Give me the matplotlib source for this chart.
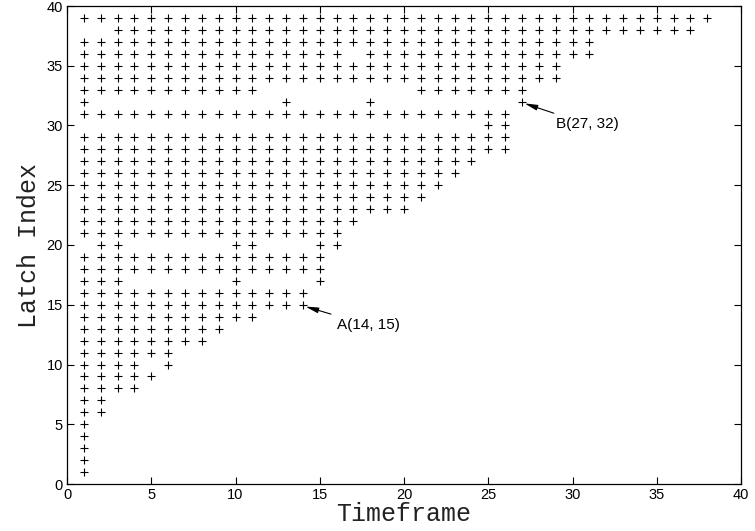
import matplotlib
matplotlib.use("Agg")
import matplotlib.pyplot as plt

# Latch index (y) for each row of points, and the timeframes (x) occupied in that row,
# given as inclusive runs (start, end) of consecutive timeframes.
latch_index = [39, 38, 37, 36, 35, 34, 33, 32, 31, 30, 29, 28, 27, 26, 25, 24, 23, 22, 21,
               20, 19, 18, 17, 16, 15, 14, 13, 12, 11, 10, 9, 8, 7, 6, 5, 4, 3, 2, 1]
timeframe_runs = [
    [(1, 38)],
    [(3, 37)],
    [(1, 31)],
    [(1, 16), (18, 31)],
    [(1, 29)],
    [(1, 29)],
    [(1, 11), (21, 27)],
    [(1, 1), (13, 13), (18, 18), (27, 27)],
    [(1, 26)],
    [(25, 26)],
    [(1, 26)],
    [(1, 26)],
    [(1, 24)],
    [(1, 23)],
    [(1, 22)],
    [(1, 21)],
    [(1, 20)],
    [(1, 17)],
    [(1, 16)],
    [(2, 3), (10, 11), (15, 16)],
    [(1, 15)],
    [(1, 15)],
    [(1, 3), (10, 10), (15, 15)],
    [(1, 14)],
    [(1, 14)],
    [(1, 11)],
    [(1, 9)],
    [(1, 8)],
    [(1, 6)],
    [(1, 4), (6, 6)],
    [(1, 5)],
    [(1, 4)],
    [(1, 2)],
    [(1, 2)],
    [(1, 1)],
    [(1, 1)],
    [(1, 1)],
    [(1, 1)],
    [(1, 1)],
]

annot_labels = ["A(14, 15)", "B(27, 32)"]
annot_points = [(14, 15), (27, 32)]

xs, ys = [], []
for y, runs in zip(latch_index, timeframe_runs):
    for a, b in runs:
        for x in range(a, b + 1):
            xs.append(x)
            ys.append(y)

fig = plt.figure(figsize=(7.55, 5.31), dpi=100)
ax = fig.add_axes([67 / 755, 47 / 531, (741 - 67) / 755, (484 - 6) / 531])

ax.plot(xs, ys, linestyle="none", marker="+", markersize=5.2, markeredgewidth=0.8, color="black")

ax.set_xlim(0, 40)
ax.set_ylim(0, 40)
ax.set_xticks(range(0, 41, 5))
ax.set_yticks(range(0, 41, 5))
ax.tick_params(direction="in", length=5, width=0.8, top=True, right=True,
               labelsize=10.5, pad=3)
for lab in ax.get_xticklabels() + ax.get_yticklabels():
    lab.set_fontfamily("Liberation Sans")
for sp in ax.spines.values():
    sp.set_linewidth(0.9)

ax.set_xlabel("Timeframe", fontfamily="Liberation Mono", fontsize=18, labelpad=0,
              color="#222222")
ax.set_ylabel("Latch Index", fontfamily="Liberation Mono", fontsize=18, labelpad=4,
              color="#222222")

text_offsets = [(2.0, -1.7), (2.0, -1.9)]
for lab, (px, py), (dx, dy) in zip(annot_labels, annot_points, text_offsets):
    ax.annotate(lab, xy=(px + 0.15, py - 0.15), xytext=(px + dx, py + dy),
                fontfamily="Liberation Sans", fontsize=11, ha="left", va="center",
                arrowprops=dict(arrowstyle="-|>,head_length=0.7,head_width=0.15",
                                color="black", lw=0.8, shrinkA=3, shrinkB=0))

fig.savefig("out.png", dpi=100)
